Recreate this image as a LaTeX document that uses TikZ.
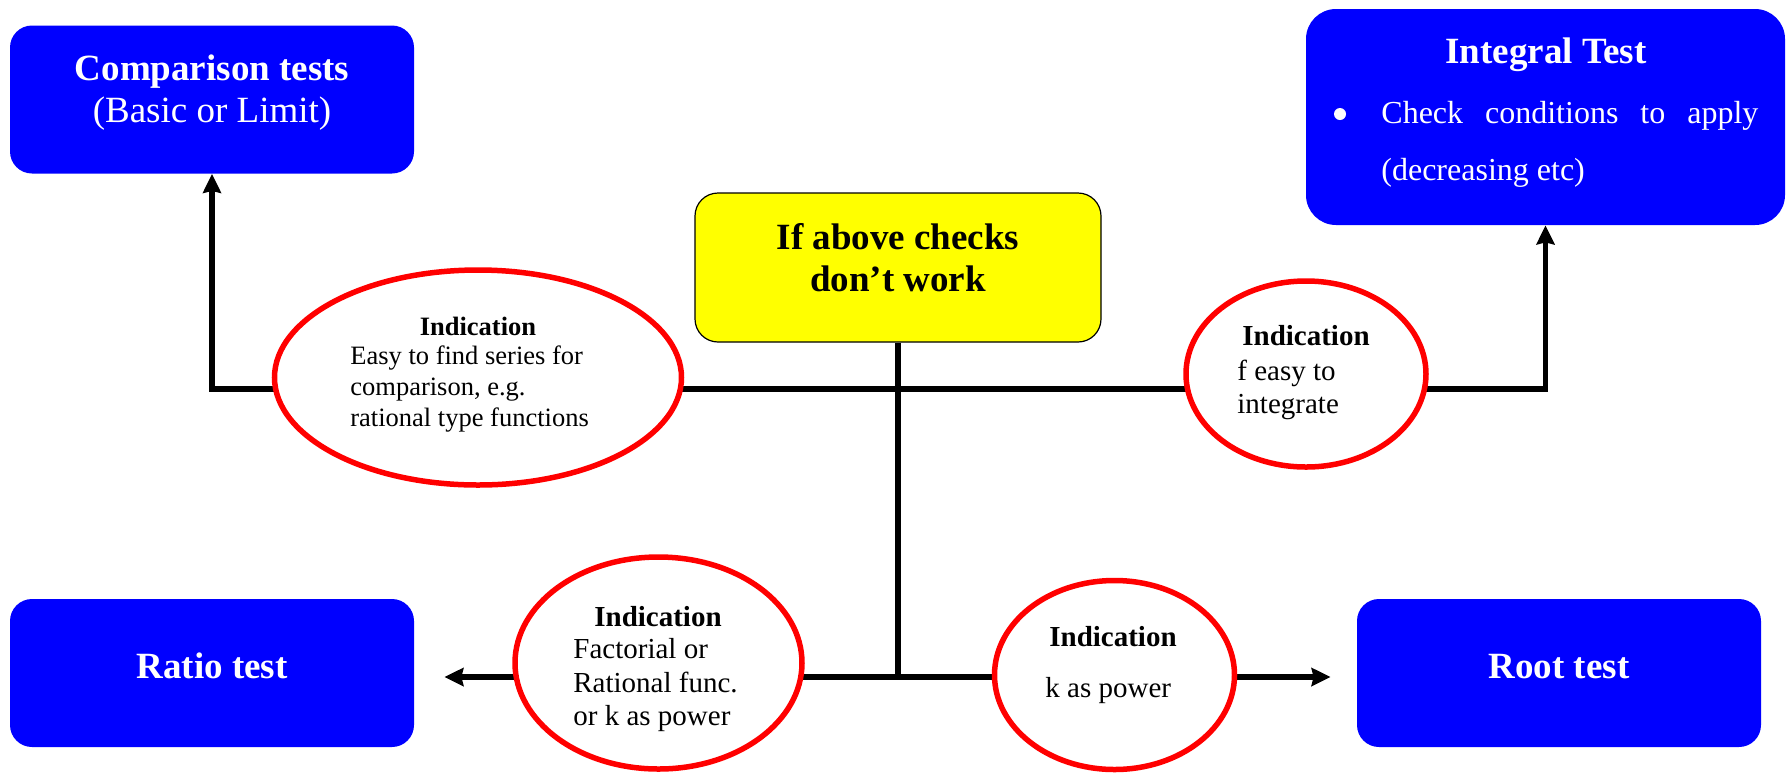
\documentclass[tikz,border=0pt]{standalone}
\usepackage{fontspec}
\setmainfont{Liberation Serif}
\usetikzlibrary{shapes.geometric,arrows.meta,backgrounds}
\definecolor{boxblue}{RGB}{0,0,255}
\definecolor{boxyellow}{RGB}{255,255,0}
\definecolor{ovalred}{RGB}{255,0,0}
\begin{document}
\begin{tikzpicture}[x=0.5pt,y=-0.5pt,
  bluebox/.style={rectangle, rounded corners=11pt, fill=boxblue, draw=none, inner sep=0pt, minimum width=202pt, minimum height=74pt},
  yelbox/.style={rectangle, rounded corners=11.5pt, fill=boxyellow, draw=black, line width=0.6pt, inner sep=0pt},
  oval/.style={ellipse, fill=white, draw=ovalred, line width=2.75pt, inner sep=0pt},
  hb/.style={font=\fontsize{18.5pt}{21pt}\selectfont\bfseries, inner sep=0pt, anchor=base},
  hr/.style={font=\fontsize{18.5pt}{21pt}\selectfont, inner sep=0pt, anchor=base},
  mr/.style={font=\fontsize{16pt}{19pt}\selectfont, inner sep=0pt, anchor=base},
  sb/.style={font=\fontsize{13.25pt}{15pt}\selectfont\bfseries, inner sep=0pt, anchor=base},
  sr/.style={font=\fontsize{13.25pt}{15pt}\selectfont, inner sep=0pt, anchor=base west},
  ib/.style={font=\fontsize{14.5pt}{17pt}\selectfont\bfseries, inner sep=0pt, anchor=base},
  ir/.style={font=\fontsize{14.5pt}{17pt}\selectfont, inner sep=0pt, anchor=base west},
  conn/.style={draw=black, line width=2.75pt},
  arr/.style={conn, -{Stealth[length=9.5pt,width=9pt,inset=1pt]}}
]
\useasboundingbox (0,0) rectangle (1790,773);

% boxes
\node[bluebox] (cmp) at (212,99.5) {};
\node[bluebox, minimum width=239.5pt, minimum height=108pt, rounded corners=15pt] (int) at (1545.5,117) {};
\node[yelbox, minimum width=203pt, minimum height=74.5pt] (yel) at (898,267.5) {};
\node[bluebox] (rat) at (212,673) {};
\node[bluebox] (root) at (1559,673) {};

% ellipses
\node[oval, minimum width=203.5pt, minimum height=107.5pt] (e1) at (478,377.5) {};
\node[oval, minimum width=120pt, minimum height=93pt] (e2) at (1306,374) {};
\node[oval, minimum width=143.5pt, minimum height=106pt] (e3) at (658.5,663) {};
\node[oval, minimum width=120pt, minimum height=94.5pt] (e4) at (1114.5,675) {};

% box texts
\node[hb, text=white] (cmpA) at (212,80) {Comparison tests};
\node[hr, text=white] (cmpB) at (212,122) {(Basic or Limit)};
\node[hb, text=white] (intA) at (1546,63) {Integral Test};
\node[circle, fill=white, inner sep=0pt, minimum size=6pt] (intBul) at (1340,114) {};
\node[mr, text=white, anchor=base west] (intB) at (1381,123) {\makebox[188.5pt][s]{Check\hfill conditions\hfill to\hfill apply}};
\node[mr, text=white, anchor=base west] (intC) at (1381,180) {(decreasing etc)};
\node[hb] (yelA) at (898,249) {If above checks};
\node[hb] (yelB) at (898,291) {don’t work};
\node[hb, text=white] (ratA) at (212,678) {Ratio test};
\node[hb, text=white] (rootA) at (1559,678) {Root test};

% ellipse texts
\node[sb] (e1h) at (478,335) {Indication};
\node[sr] (e1a) at (350,364) {Easy to find series for};
\node[sr] (e1b) at (350,395) {comparison, e.g.};
\node[sr] (e1c) at (350,426) {rational type functions};

\node[ib] (e2h) at (1306,345) {Indication};
\node[ir] (e2a) at (1237,380) {f easy to};
\node[ir] (e2b) at (1237,413) {integrate};

\node[ib] (e3h) at (658,626) {Indication};
\node[ir] (e3a) at (573,658) {Factorial or};
\node[ir] (e3b) at (573,692) {Rational func.};
\node[ir] (e3c) at (573,725) {or k as power};

\node[ib] (e4h) at (1113,646) {Indication};
\node[ir] (e4a) at (1045,697) {k as power};

% junctions
\coordinate (hub) at (898,389);
\coordinate (hubL) at (898,677);

\begin{pgfonlayer}{background}
\draw[conn] (yel.south) -- (hubL);
\draw[arr] (hub) -| (cmp.south);
\draw[arr] (hub) -| (int.south);
\draw[arr, shorten >=15pt] (hubL) -- (rat.east |- hubL);
\draw[arr, shorten >=13pt] (hubL) -- (root.west |- hubL);
\end{pgfonlayer}
\end{tikzpicture}
\end{document}
